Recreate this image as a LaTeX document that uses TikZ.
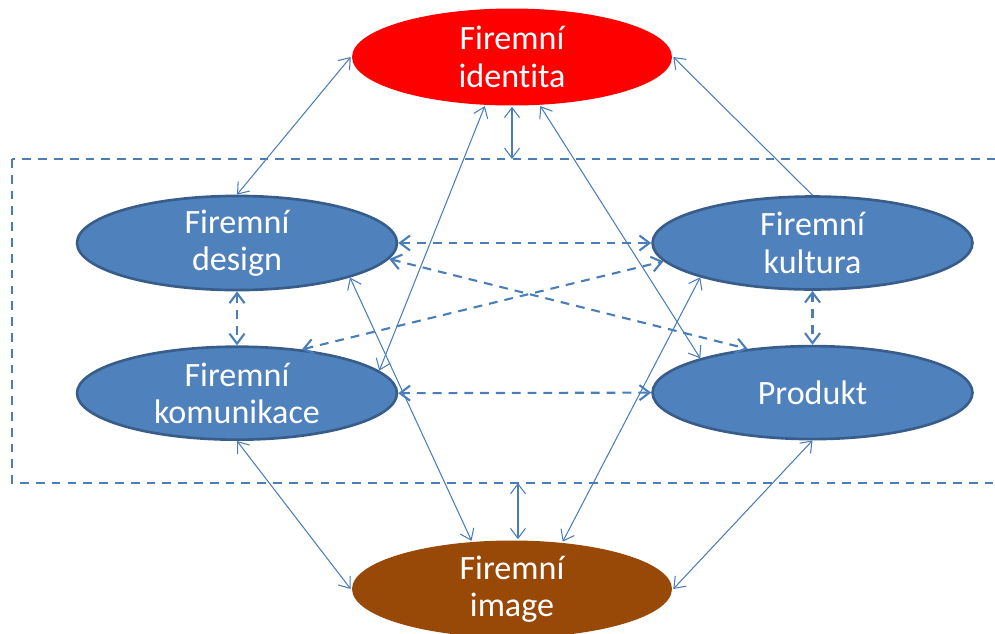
\documentclass[tikz,border=0pt]{standalone}
\usepackage{fontspec}
\setmainfont{Carlito}[Ligatures=NoCommon]
\usetikzlibrary{shapes.geometric, arrows.meta, positioning}
\definecolor{ellblue}{HTML}{4F81BD}
\definecolor{ellline}{HTML}{385D8A}
\definecolor{arrblue}{HTML}{4A7EBB}
\definecolor{idred}{HTML}{FF0000}
\definecolor{imbrown}{HTML}{984807}

\begin{document}
\begin{tikzpicture}[
  x=0.02cm, y=-0.02cm,
  node distance=1.08cm and 5.06cm,
  >={Straight Barb[length=2mm, width=3mm]},
  part/.style={ellipse, draw=ellline, line width=1.5pt, fill=ellblue, minimum width=6.4cm, minimum height=1.86cm, inner sep=0pt, align=center, text=white, font=\fontsize{19.4}{21.2}\selectfont},
  pole/.style={part, draw=none, minimum height=1.94cm},
  link/.style={<->, arrblue, line width=0.6pt},
  dlink/.style={<->, arrblue, line width=1.2pt, dash pattern=on 5pt off 4pt},
  frame/.style={arrblue, line width=1.2pt, dash pattern=on 5pt off 4pt}
]
  \useasboundingbox (0,0) rectangle (995,633);

  % group frame
  \draw[frame] (12,159) rectangle (1010,483);
  \coordinate (ftop) at (512,159);
  \coordinate (fbot) at (518,483);

  \node[pole, fill=idred] (identita) at (512,57) {Firemní\\identita};
  \node[part] (design) at (237,243) {Firemní\\design};
  \node[part, right=of design] (kultura) {Firemní\\kultura};
  \node[part, below=of design] (komunikace) {Firemní\\komunikace};
  \node[part, below=of kultura] (produkt) {Produkt};
  \node[pole, fill=imbrown] (image) at (512,589) {Firemní\\image};

  % identita
  \draw[link] (identita.west) -- (design.north);
  \draw[link, <-] (identita.east) -- (kultura.north);
  \draw[link] (identita.south) -- (ftop);
  \draw[link] (identita.241) -- (komunikace.9);
  \draw[link] (identita.300) -- (produkt.163);

  % image
  \draw[link] (design.343) -- (image.130);
  \draw[link] (kultura.197) -- (image.43);
  \draw[link] (komunikace.south) -- (image.west);
  \draw[link] (produkt.south) -- (image.east);
  \draw[link] (fbot) -- (fbot |- image.north);

  % inside the frame
  \draw[dlink] (design.east) -- (kultura.west);
  \draw[dlink] (design.354) -- (produkt.146);
  \draw[dlink] (komunikace.34) -- (kultura.187);
  \draw[dlink] (komunikace.east) -- (produkt.west);
  \draw[dlink] (design.south) -- (komunikace.north);
  \draw[dlink] (kultura.south) -- (produkt.north);
\end{tikzpicture}
\end{document}
